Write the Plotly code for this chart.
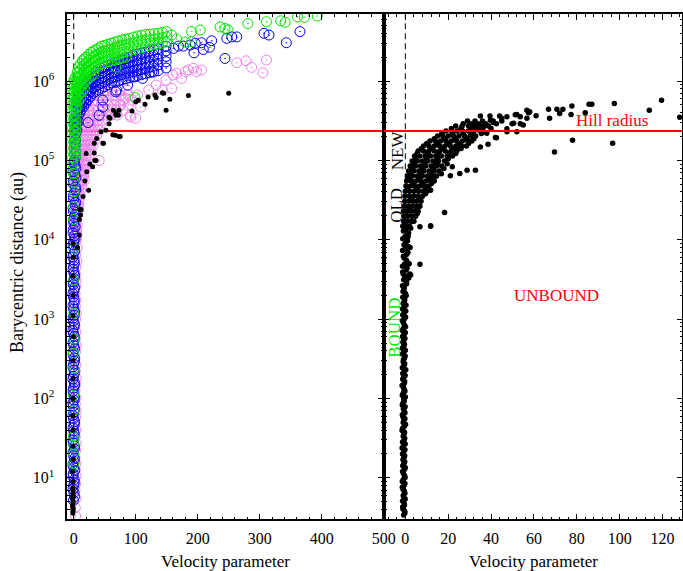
import math
import plotly.graph_objects as go

# ---------------- DATA ----------------
green_band = [  # (x, [y ...]) rows of the dense green band
    (-2, [9.3e5, 8.0e5, 6.9e5, 6.0e5, 5.1e5, 4.4e5, 3.7e5, 3.1e5, 2.6e5, 2.2e5, 1.85e5, 1.55e5, 1.3e5, 1.08e5, 9.0e4, 7.5e4]),
    (0.5, [1.05e6, 8.8e5, 7.4e5, 6.3e5, 5.3e5, 4.5e5, 3.8e5, 3.25e5, 2.75e5, 2.35e5, 2.0e5, 1.7e5, 1.42e5, 1.2e5]),
    (3, [1.12e6, 9.5e5, 8.0e5, 6.7e5, 5.6e5, 4.6e5, 3.8e5, 3.2e5, 2.7e5, 2.3e5, 1.9e5, 1.6e5, 1.3e5, 1.1e5]),
    (5.5, [1.3e6, 1.1e6, 9.3e5, 7.9e5, 6.6e5, 5.6e5, 4.7e5]),
    (8, [1.5e6, 1.28e6, 1.1e6, 9.2e5, 7.8e5, 6.6e5, 5.6e5]),
    (11, [1.65e6, 1.4e6, 1.18e6, 1.0e6, 8.5e5, 7.1e5, 6.1e5]),
    (14, [1.8e6, 1.5e6, 1.25e6, 1.05e6, 8.8e5, 7.3e5]),
    (17, [1.9e6, 1.6e6, 1.35e6, 1.12e6, 9.5e5, 8.0e5]),
    (20, [2.0e6, 1.7e6, 1.45e6, 1.2e6, 1.0e6]),
    (24, [2.15e6, 1.82e6, 1.55e6, 1.3e6, 1.08e6]),
    (28, [2.3e6, 1.95e6, 1.65e6, 1.38e6, 1.15e6]),
    (32, [2.4e6, 2.05e6, 1.72e6, 1.45e6, 1.22e6]),
    (36, [2.5e6, 2.1e6, 1.8e6, 1.5e6]),
    (40.5, [2.62e6, 2.2e6, 1.88e6, 1.58e6]),
    (45, [2.75e6, 2.3e6, 1.95e6, 1.65e6]),
    (50, [2.82e6, 2.38e6, 2.0e6, 1.7e6]),
    (55, [2.9e6, 2.45e6, 2.05e6, 1.75e6]),
    (60.5, [3.0e6, 2.52e6, 2.12e6, 1.8e6]),
    (66, [3.1e6, 2.6e6, 2.2e6, 1.85e6]),
    (72, [3.2e6, 2.7e6, 2.25e6, 1.9e6]),
    (78, [3.3e6, 2.8e6, 2.3e6, 1.95e6]),
    (84, [3.38e6, 2.85e6, 2.35e6, 2.0e6]),
    (90, [3.45e6, 2.9e6, 2.4e6]),
    (96.5, [3.58e6, 3.0e6, 2.48e6]),
    (103, [3.7e6, 3.1e6, 2.55e6]),
    (109.5, [3.78e6, 3.18e6, 2.62e6]),
    (116, [3.85e6, 3.25e6, 2.7e6]),
    (123, [3.9e6, 3.3e6, 2.78e6]),
    (130, [3.95e6, 3.35e6, 2.85e6]),
    (136.5, [4.02e6, 3.42e6, 2.92e6]),
    (143, [4.1e6, 3.5e6, 3.0e6]),
    (150, [4.2e6, 3.6e6, 3.1e6]),
]
green_pts = [
    (-0.5, 20), (0.3, 26), (-0.8, 33), (0.5, 71), (-0.3, 110), (0.2, 15), (0.6, 240),
    (-0.6, 370), (0.4, 560), (0.2, 1190), (-0.4, 3100), (0.8, 7800), (-0.3, 1.8e4),
    (-0.2, 2.6e4), (0.6, 4.0e4), (0.4, 5.2e4), (-0.7, 6.9e4),
    (68, 1.5e6), (99, 6.2e5),
    (158, 3.8e6), (166, 3.4e6), (180, 3.1e6), (190, 3.13e6), (190, 4.2e6),
    (204, 4.4e6), (236, 4.8e6), (244, 4.6e6), (249, 4.4e6), (281, 5.3e6), (311, 5.6e6),
    (334, 5.75e6), (341, 5.5e6), (361, 6.45e6), (372, 6.35e6), (393, 6.6e6),
]

blue_col = [
    (-0.6, 5.2), (0.4, 6.5), (-0.2, 8.0), (0.8, 9.5), (-0.9, 11.3), (0.1, 13.5), (0.6, 16),
    (-0.4, 19), (0.9, 23), (-0.7, 27.5), (0.3, 33), (-0.1, 39), (0.7, 47), (-0.5, 56),
    (0.2, 67), (-0.8, 80), (0.5, 95), (0.0, 113), (-0.3, 135), (0.8, 160), (-0.6, 190),
    (0.4, 228), (-0.2, 272), (0.9, 325), (-0.9, 388), (0.1, 463), (0.6, 552), (-0.4, 660),
    (0.3, 787), (-0.7, 940), (0.7, 1120), (-0.1, 1340), (0.5, 1600), (-0.5, 1910),
    (0.2, 2280), (-0.8, 2720), (0.8, 3250), (0.0, 3880), (-0.3, 4630), (0.6, 5530),
    (-0.6, 6600), (0.4, 7880), (-0.2, 9400), (1.0, 11200), (-0.9, 13400), (0.3, 16000),
    (1.5, 19100), (-0.5, 22800), (2.0, 27200), (-0.3, 32500), (1.2, 38800), (2.5, 46300),
    (-0.6, 55300), (1.8, 66000), (3.0, 78800), (0.5, 94000),
    (1.2, 5.8), (-1.3, 7.2), (0.9, 8.7), (-1.1, 10.4), (1.4, 12.3), (-1.5, 14.7), (1.0, 17.5),
    (-1.2, 21), (1.3, 25), (-1.4, 30), (0.9, 36), (-1.0, 43), (1.5, 51), (-1.3, 61),
    (1.1, 73), (-1.5, 87), (1.2, 104), (-1.1, 124), (1.4, 147), (-1.3, 175), (0.9, 208),
    (-1.4, 249), (1.3, 297), (-1.0, 355), (1.5, 424), (-1.2, 506), (1.0, 604), (-1.5, 720),
    (1.2, 860), (-1.1, 1030), (1.4, 1230), (-1.3, 1460), (0.9, 1750), (-1.4, 2090),
    (1.3, 2490), (-1.0, 2970), (1.5, 3550), (-1.2, 4240), (1.0, 5060), (-1.5, 6040),
    (1.6, 7210), (-1.1, 8610), (2.0, 10300), (-1.3, 12200), (2.2, 14600), (-0.8, 17500),
    (2.6, 20900), (-1.2, 24900), (3.0, 29700), (-0.9, 35500), (3.2, 42400), (-1.0, 50600),
    (3.5, 60400), (-0.7, 72100), (2.2, 86000),
]
blue_band = [  # (x, [y ...])
    (1, [1.0e5, 1.2e5, 1.45e5, 1.7e5, 2.0e5, 2.4e5, 2.9e5, 3.4e5]),
    (3, [1.1e5, 1.3e5, 1.58e5, 1.85e5, 2.2e5, 2.65e5, 3.15e5]),
    (5, [2.4e5, 2.9e5, 3.4e5, 4.0e5, 4.7e5, 5.5e5]),
    (7.5, [3.1e5, 3.7e5, 4.35e5, 5.1e5, 6.0e5]),
    (10, [4.0e5, 4.6e5, 5.4e5, 6.2e5, 7.1e5]),
    (13, [4.4e5, 5.0e5, 5.9e5, 6.8e5, 7.8e5]),
    (16, [4.8e5, 5.5e5, 6.4e5, 7.4e5, 8.5e5]),
    (19.5, [5.3e5, 6.1e5, 7.1e5, 8.2e5, 9.3e5]),
    (23, [5.8e5, 6.7e5, 7.8e5, 9.0e5, 1.0e6]),
    (27, [6.4e5, 7.4e5, 8.6e5, 1.0e6]),
    (31, [7.0e5, 8.1e5, 9.4e5, 1.09e6]),
    (35.5, [7.4e5, 8.6e5, 9.9e5, 1.15e6, 1.3e6]),
    (40, [7.8e5, 9.0e5, 1.05e6, 1.22e6, 1.4e6]),
    (45, [8.1e5, 9.4e5, 1.09e6, 1.27e6, 1.45e6]),
    (50, [8.5e5, 9.8e5, 1.14e6, 1.32e6, 1.5e6]),
    (55.5, [9.0e5, 1.04e6, 1.21e6, 1.4e6, 1.58e6]),
    (61, [9.5e5, 1.1e6, 1.28e6, 1.48e6, 1.65e6]),
    (66.5, [9.7e5, 1.13e6, 1.32e6, 1.52e6, 1.7e6]),
    (72, [1.0e6, 1.17e6, 1.36e6, 1.57e6, 1.75e6]),
    (78, [1.04e6, 1.21e6, 1.4e6, 1.62e6, 1.84e6]),
    (84, [1.07e6, 1.25e6, 1.45e6, 1.68e6, 1.92e6]),
    (90, [1.1e6, 1.28e6, 1.5e6, 1.74e6, 2.0e6]),
    (96, [1.13e6, 1.32e6, 1.55e6, 1.8e6, 2.1e6]),
    (102.5, [1.17e6, 1.36e6, 1.6e6, 1.86e6, 2.18e6]),
    (109, [1.2e6, 1.4e6, 1.65e6, 1.92e6, 2.25e6]),
    (115.5, [1.24e6, 1.45e6, 1.7e6, 1.98e6, 2.32e6]),
    (122, [1.27e6, 1.5e6, 1.75e6, 2.05e6, 2.4e6]),
    (129, [1.3e6, 1.55e6, 1.82e6, 2.12e6, 2.48e6]),
    (136, [1.35e6, 1.6e6, 1.88e6, 2.2e6, 2.55e6]),
    (149, [1.46e6, 1.75e6, 2.05e6, 2.4e6, 2.75e6]),
]
blue_pts = [
    (47, 5.75e5), (68, 7.3e5), (87, 8.9e5), (111, 1.08e6), (41, 3.7e5), (47, 4.7e5),
    (23, 3.0e5), (69, 7.7e5), (126, 1.31e6), (99, 1.13e6),
    (161, 2.58e6), (169, 2.76e6), (177, 2.76e6), (188, 2.84e6), (194, 2.27e6),
    (196, 2.99e6), (206, 3.04e6), (209, 2.5e6), (219, 2.66e6), (222.5, 3.22e6),
    (244, 1.93e6), (247, 3.45e6), (255, 3.6e6), (263, 3.6e6), (307, 4.0e6),
    (315, 3.8e6), (343, 3.04e6), (365, 4.2e6),
]

pink_col = [
    (3, 3.3), (2.5, 4.2), (3.5, 5.5), (2, 7), (3, 8.5), (4, 10.5), (2.5, 12.5), (3.5, 15),
    (2, 18), (3, 22), (4, 27), (2.5, 33), (3.5, 40), (2, 48), (3, 58), (4, 70), (2.5, 85),
    (3.5, 102), (2, 125), (3, 150), (4, 180), (2.5, 220), (3.5, 265), (2, 320), (3, 390),
    (4, 470), (2.5, 570), (3.5, 690), (2, 830), (3, 1000), (4, 1200), (2.5, 1450),
    (3.5, 1750), (2, 2100), (3, 2550), (4, 3100), (2.5, 3700), (3.5, 4500), (5, 5400),
    (3, 6500), (5.5, 7900), (3, 9500),
]
pink_band = [  # (y, [x ...]) rows of the pink wedge
    (1.0e4, [2, 4]), (1.15e4, [3, 5]), (1.32e4, [2, 4.5]), (1.52e4, [3, 5.5]),
    (1.77e4, [2, 5]), (2.05e4, [3, 6]), (2.36e4, [2, 4.5, 7]), (2.75e4, [3, 6, 8]),
    (3.16e4, [2, 5, 8.5]), (3.65e4, [3, 6.5, 10]), (4.22e4, [2, 5, 8, 11]),
    (4.9e4, [3, 6.5, 10, 13]), (5.65e4, [2, 5, 8.5, 12, 14]), (6.5e4, [3, 6.5, 10, 13.5, 16]),
    (7.55e4, [2, 5.5, 9, 12.5, 16, 18]), (8.7e4, [3, 7, 11, 15, 19, 21]),
    (1.01e5, [2, 6, 10, 14, 18, 22]), (1.17e5, [3, 7, 11, 15.5, 20, 25]),
    (1.35e5, [2, 6, 10.5, 15, 19.5, 24, 28]), (1.56e5, [4, 8.5, 13, 18, 23, 27, 31]),
    (1.8e5, [3, 8, 13, 18, 23, 28, 34]), (2.08e5, [6, 11, 16, 21, 27, 32, 37]),
    (2.41e5, [5, 10, 16, 22, 28, 34, 40]), (2.79e5, [8, 14, 20, 26, 32, 38, 43]),
    (3.22e5, [6, 13, 20, 27, 34, 40, 46]), (3.72e5, [10, 17, 24, 31, 38, 45, 52, 60, 70]),
    (4.3e5, [8, 16, 24, 32, 40, 48, 56, 68, 80]), (4.98e5, [15, 25, 35, 45, 55, 65, 76, 88]),
    (5.75e5, [20, 32, 44, 56, 68, 80, 95]), (6.66e5, [40, 52, 64, 76, 88]),
    (7.7e5, [50, 62, 74, 86]),
]
pink_pts = [
    (84, 6.05e5), (103, 6.66e5), (121, 7.7e5), (133, 8.9e5), (149, 1.03e6), (160, 1.19e6),
    (143, 7.7e5), (108, 4.7e5), (100, 3.4e5), (74, 5.0e5), (47, 7.05e5), (91, 3.7e5),
    (92, 3.5e5), (41, 1.0e5), (17, 5.6e4),
    (166, 1.25e6), (174, 1.08e6), (180, 1.31e6), (185, 1.38e6), (193, 1.45e6),
    (198, 1.31e6), (206, 1.38e6), (158, 8.1e5), (263, 1.7e6), (278, 1.8e6),
    (287, 1.49e6), (305, 1.27e6), (311, 1.84e6),
]

black_left = [
    (-1.5, 3.6), (-1.3, 3.8), (-1.0, 4.0), (-1.2, 4.2), (-1.8, 4.4), (-1.4, 4.6),
    (-1.2, 4.9), (-1.1, 5.1), (-1.6, 5.4), (-1.3, 5.7), (-1.0, 6.0), (-1.2, 6.4),
    (-1.4, 7.0), (-1.4, 7.5), (-1.1, 9), (-1.6, 12), (-0.9, 17), (-1.3, 25), (-1.0, 40),
    (-1.5, 60), (-0.8, 100), (-1.2, 180), (-1.0, 300), (-0.7, 600), (-1.3, 1100),
    (-0.9, 2000), (-1.1, 3500), (-0.6, 6000), (-1.0, 9000),
    (6, 8.0e3), (9, 1.15e4), (11, 2.05e4), (10, 2.4e4), (15, 3.5e4), (18, 5.5e4), (26, 9.0e4),
    (44, 2.3e5), (36, 1.0e5), (24, 4.2e4), (12, 2.4e4), (63, 2.1e5), (73, 2.0e5),
    (47, 1.65e5), (33, 1.24e5), (30.6, 8.3e4), (21, 7.2e4), (143, 7.1e5), (133, 6.2e5),
    (149, 4.3e5), (115, 5.1e5), (100, 5.5e5), (94, 4.2e5), (73, 4.3e5), (68, 3.7e5),
    (57, 3.5e5), (155, 5.9e5), (185, 6.6e5), (250, 7.0e5), (9, 1.8e4), (57, 2.9e5),
    (68, 3.9e5), (52, 2.4e5), (20, 1.22e5), (33, 1.64e5), (64, 4.3e5), (72, 3.7e5),
    (104, 5.75e5), (120, 6.3e5), (131, 6.66e5), (145, 7.0e5), (58.5, 3.4e5), (37, 1.89e5),
    (48, 1.64e5), (34, 1.0e5), (67, 2.08e5), (75, 2.0e5),
]

black_right_col = [
    (-0.8, 3.4), (-0.3, 3.8), (-1.2, 4.3), (-0.6, 4.8), (-0.1, 5.4), (-1.0, 6.0), (-0.5, 6.8),
    (-1.4, 7.6), (-0.2, 8.5), (-0.9, 9.5), (-0.4, 10.7), (-1.3, 12.0), (0.0, 13.4), (-0.7, 15.0),
    (-1.1, 16.9), (-0.3, 18.9), (-0.8, 21.2), (-1.5, 23.8), (-0.1, 26.6), (-0.6, 29.8),
    (-1.0, 33.4), (-0.4, 37.4), (-1.3, 41.9), (0.1, 47.0), (-0.7, 52.6), (-1.1, 59.0),
    (-0.2, 66.0), (-0.9, 74.0), (-1.4, 83.0), (-0.5, 93.0), (0.0, 104), (-1.0, 117),
    (-0.6, 131), (-1.5, 146), (-0.3, 164), (-0.8, 184), (-1.2, 206), (0.2, 230), (-0.7, 258),
    (-1.0, 289), (-0.4, 324), (-1.3, 363), (0.0, 406), (-0.8, 455), (-1.1, 510), (-0.2, 571),
    (-0.6, 640), (-1.4, 716), (0.1, 802), (-0.9, 899), (-0.4, 1007), (-1.2, 1128), (0.2, 1263),
    (-0.7, 1415), (-1.0, 1584), (-0.3, 1775), (0.4, 1988), (-1.1, 2226), (-0.5, 2494),
    (0.6, 2793), (-0.8, 3128), (0.2, 3503), (-1.2, 3924), (0.8, 4395), (-0.4, 4922),
    (0.5, 5513), (-0.9, 6175), (1.2, 6916), (0.0, 7746), (-0.6, 8675), (1.0, 9716),
    (-0.2, 10880), (1.5, 12190), (0.3, 13650), (-0.5, 15300),
    (1.6, 3300), (1.8, 5000), (2.2, 8000), (1.3, 11000), (2.5, 14000),
    (-0.2, 3.6), (-1.1, 4.05), (-0.4, 4.55), (-1.3, 5.1), (-0.7, 5.7), (-0.2, 6.4), (-1.1, 7.2),
    (-0.6, 8.05), (-1.4, 9.0), (-0.1, 10.1), (-0.9, 11.3), (-0.5, 12.7), (-1.2, 14.2),
    (-0.3, 15.9), (-0.7, 17.9), (-1.3, 20.0), (-0.2, 22.5), (-0.9, 25.2), (-1.3, 28.2),
    (-0.3, 31.6), (-0.7, 35.4), (-1.5, 39.6), (-0.5, 44.4), (-1.0, 49.7), (-0.2, 55.7),
    (-1.4, 62.4), (-0.6, 69.9), (-0.1, 78.4), (-1.1, 87.9), (-0.8, 98.4), (-1.4, 110),
    (-0.2, 124), (-0.9, 138), (-0.5, 155), (-1.2, 174), (-0.1, 195), (-0.6, 218), (-1.4, 244),
    (-0.3, 273), (-0.9, 306), (-0.1, 343), (-0.7, 384), (-1.4, 430), (-0.4, 482), (-0.8, 540),
    (-1.3, 605), (0.0, 678), (-0.9, 759), (-0.5, 850), (-1.4, 952), (0.1, 1066), (-0.6, 1195),
    (-1.3, 1339), (0.3, 1500), (-0.4, 1680), (-1.2, 1880), (0.0, 2105), (-0.7, 2360),
    (-1.3, 2640), (0.5, 2960), (-0.3, 3310), (-1.0, 3710), (0.4, 4150), (-1.3, 4650),
    (0.9, 5210), (-0.5, 5840), (0.6, 6540), (-1.3, 7330), (1.4, 8210), (0.2, 9190),
    (-1.2, 10300), (0.8, 11500), (-0.9, 12900), (1.1, 14500),
]
black_right_band = [  # (y, [x ...]) rows of the dense black band
    (1.485e4, [-1.2, 0.5, 2.0]), (1.716e4, [-0.8, 1.0, 2.8, 4.0]),
    (1.984e4, [-0.6, 1.2, 3.0, 4.8]), (2.294e4, [-0.9, 0.8, 2.6, 4.4, 6.0]),
    (2.47e4, [1.9, 5.6]), (2.653e4, [-0.5, 1.3, 3.2, 5.0, 6.8]),
    (3.068e4, [-0.3, 1.6, 3.5, 5.4, 7.3]), (3.3e4, [2.6, 6.4]),
    (3.546e4, [-0.2, 1.8, 3.8, 5.8, 8.0]), (4.101e4, [0.0, 2.0, 4.1, 6.2, 8.3, 10.2]),
    (4.4e4, [1.1, 5.2, 9.4]), (4.743e4, [0.3, 2.4, 4.6, 6.8, 9.0, 11.0]),
    (5.1e4, [3.6, 8.0, 12.2]), (5.483e4, [0.6, 2.8, 5.0, 7.3, 9.6, 11.9, 13.5]),
    (5.9e4, [1.9, 6.4, 11.0]), (6.339e4, [1.0, 3.3, 5.6, 8.0, 10.4, 12.8, 14.6]),
    (6.8e4, [2.5, 7.2, 12.0, 16.8]), (7.332e4, [1.5, 3.9, 6.3, 8.7, 11.1, 13.5, 15.8]),
    (7.9e4, [3.3, 8.0, 13.0]), (8.477e4, [2.3, 4.7, 7.1, 9.5, 12.0, 14.5, 17.0]),
    (9.1e4, [4.0, 9.0, 14.0, 19.5]), (9.80e4, [3.2, 5.6, 8.0, 10.5, 13.0, 15.5, 18.3]),
    (1.05e5, [5.0, 10.0, 15.0, 20.0]), (1.133e5, [4.3, 6.7, 9.2, 11.7, 14.2, 16.8, 19.5, 22.0]),
    (1.22e5, [5.5, 10.5, 15.5, 20.5, 23.5]), (1.31e5, [6.0, 8.5, 11.0, 13.5, 16.0, 18.6, 21.3, 24.0]),
    (1.41e5, [7.5, 12.5, 17.5, 22.5, 26.0]),
    (1.515e5, [8.5, 11.0, 13.5, 16.0, 18.5, 21.0, 23.6, 26.2, 28.5]),
    (1.63e5, [10.0, 15.0, 20.0, 25.0, 29.5]),
    (1.752e5, [11.5, 14.0, 16.5, 19.0, 21.5, 24.0, 26.6, 29.2, 31.0]),
    (1.88e5, [13.5, 18.5, 23.5, 28.5, 32.0]),
    (2.025e5, [15.0, 17.5, 20.0, 22.5, 25.0, 27.6, 30.2, 32.8]),
    (2.18e5, [17.0, 22.0, 27.0, 31.0, 35.5]),
    (2.342e5, [19.0, 21.6, 24.2, 26.8, 29.4, 32.0, 34.8]),
    (2.52e5, [21.5, 26.0, 31.0, 36.0, 40.0]),
    (2.707e5, [23.5, 26.5, 29.5, 32.5, 35.5, 38.8]),
    (2.9e5, [27.0, 31.0, 34.0, 37.5, 42.5]),
    (3.13e5, [29.0, 32.5, 36.0, 41.0, 45.0]), (3.62e5, [35.0, 39.5, 44.0]),
]
black_right_pts = [
    (32.7, 7.5e4), (28.8, 7.5e4), (25.4, 6.85e4), (21, 6.4e4), (18.3, 2.2e4), (11.8, 1.48e4),
    (6.8, 1.46e4), (6.8, 4.9e3), (2.1, 3.7e3), (13.3, 6.2e4), (18, 7.9e4), (21.9, 8.3e4),
    (14.9, 9.1e4), (24, 1.35e5), (25.7, 1.48e5), (35, 1.48e5), (38.6, 1.6e5), (42.5, 1.93e5),
    (7.1, 3.16e4), (9.4, 3.8e4), (11.8, 4.2e4), (5.6, 2.15e4), (3.3, 1.7e4), (11.8, 1.5e4),
    (2.5, 3.6e3),
    (53.6, 3.55e5), (55, 2.8e5), (56.7, 3.4e5), (58, 4.1e5), (61, 3.65e5), (66.8, 4.4e5),
    (67.3, 3.4e5), (70.7, 4.4e5), (72, 3.9e5), (73.5, 4.4e5), (77.7, 4.84e5), (77.3, 3.8e5),
    (78, 1.8e5), (69.6, 1.28e5), (83.9, 4.0e5), (85.7, 5.1e5), (87, 5.1e5), (97.5, 5.2e5),
    (96.7, 1.64e5), (113.8, 4.3e5), (119.5, 5.75e5), (128, 3.5e5), (57.5, 4.0e5),
    (52, 3.8e5), (47.4, 3.55e5), (50.5, 2.93e5), (52, 2.3e5), (47.4, 2.5e5), (38, 2.2e5),
    (36.6, 2.65e5), (41, 3.0e5), (33.5, 2.5e5), (51.3, 3.75e5), (56.7, 4.3e5), (53.6, 2.9e5),
    (49.8, 2.9e5), (45, 3.4e5), (39.7, 3.2e5), (47.4, 2.3e5), (42, 1.94e5),
]

hill_radius = 2.34e5
x_range_left = [-10.4, 500.6]
x_range_right = [-9.95, 129.2]
y_range = [3.0, 7.0e6]
y_tick_vals = [10, 100, 1e3, 1e4, 1e5, 1e6]
y_tick_text = ["10<sup>1</sup>", "10<sup>2</sup>", "10<sup>3</sup>", "10<sup>4</sup>",
               "10<sup>5</sup>", "10<sup>6</sup>"]

def from_pairs(pairs):
    return [p[0] for p in pairs], [p[1] for p in pairs]

def from_xrows(rows):
    xs, ys = [], []
    for x, yl in rows:
        for y in yl:
            xs.append(x); ys.append(y)
    return xs, ys

def from_yrows(rows):
    xs, ys = [], []
    for y, xl in rows:
        for x in xl:
            xs.append(x); ys.append(y)
    return xs, ys

def cat(*parts):
    xs, ys = [], []
    for a, b in parts:
        xs += a; ys += b
    return xs, ys

gx, gy = cat(from_xrows(green_band), from_pairs(green_pts))
bx, by = cat(from_pairs(blue_col), from_xrows(blue_band), from_pairs(blue_pts))
px_, py_ = cat(from_pairs(pink_col), from_yrows(pink_band), from_pairs(pink_pts))
kx, ky = from_pairs(black_left)
rx, ry = cat(from_pairs(black_right_col), from_yrows(black_right_band), from_pairs(black_right_pts))

GREEN = "#00e600"
BLUE = "#0000f0"
PINK = "#ee82ee"
FONT = "Liberation Serif, Times New Roman, serif"

fig = go.Figure()
fig.add_trace(go.Scatter(x=x_range_left, y=[hill_radius, hill_radius], mode="lines",
                         line=dict(color="#ff0000", width=2), xaxis="x", yaxis="y",
                         hoverinfo="skip"))

def circles(x, y, color):
    return go.Scatter(x=x, y=y, mode="markers", xaxis="x", yaxis="y",
                      marker=dict(symbol="circle-open-dot", size=10, color=color,
                                  line=dict(color=color, width=1)))

fig.add_trace(circles(px_, py_, PINK))
fig.add_trace(circles(bx, by, BLUE))
fig.add_trace(circles(gx, gy, GREEN))
fig.add_trace(go.Scatter(x=kx, y=ky, mode="markers", xaxis="x", yaxis="y",
                         marker=dict(symbol="circle", size=5, color="black")))
fig.add_trace(go.Scatter(x=rx, y=ry, mode="markers", xaxis="x2", yaxis="y2",
                         marker=dict(symbol="circle", size=5.5, color="black")))
fig.add_trace(go.Scatter(x=x_range_right, y=[hill_radius, hill_radius], mode="lines",
                         line=dict(color="#ff0000", width=2), xaxis="x2", yaxis="y2",
                         hoverinfo="skip"))

W, H = 683, 571
xl_dom = [67.3 / W, 384.0 / W]
xr_dom = [384.0 / W, 682.3 / W]
y_dom = [1 - 519.3 / H, 1 - 14.0 / H]

minor_y = [m * 10 ** k for k in range(0, 7) for m in range(2, 10)]

axis_common = dict(showline=True, linecolor="black", linewidth=1.5, mirror="ticks",
                   ticks="inside", tickcolor="black", tickwidth=1, showgrid=False,
                   zeroline=False, automargin=False,
                   tickfont=dict(family=FONT, size=16, color="black"))

fig.update_layout(
    width=W, height=H, margin=dict(l=0, r=0, t=0, b=0, autoexpand=False), autosize=False,
    paper_bgcolor="white", plot_bgcolor="white", showlegend=False,
    xaxis=dict(domain=xl_dom, range=x_range_left, anchor="y", tickmode="linear",
               tick0=0, dtick=100, ticklen=6, ticklabelstandoff=4,
               minor=dict(ticks="inside", dtick=20, tick0=0, ticklen=3, tickcolor="black"),
               **axis_common),
    xaxis2=dict(domain=xr_dom, range=x_range_right, anchor="y2", tickmode="linear",
                tick0=0, dtick=20, ticklen=6, ticklabelstandoff=4,
                minor=dict(ticks="inside", dtick=4, tick0=0, ticklen=3, tickcolor="black"),
                **axis_common),
    yaxis=dict(domain=y_dom, type="log", anchor="x",
               range=[math.log10(y_range[0]), math.log10(y_range[1])],
               tickmode="array", tickvals=y_tick_vals, ticktext=y_tick_text,
               ticklen=6, ticklabelstandoff=8,
               minor=dict(ticks="inside", tickvals=minor_y, ticklen=3, tickcolor="black"),
               **axis_common),
    yaxis2=dict(domain=y_dom, type="log", anchor="x2", showticklabels=False,
                range=[math.log10(y_range[0]), math.log10(y_range[1])],
                tickmode="array", tickvals=y_tick_vals, ticklen=6,
                minor=dict(ticks="inside", tickvals=minor_y, ticklen=3, tickcolor="black"),
                **axis_common),
)

for xr in ("x", "x2"):
    fig.add_shape(type="line", xref=xr, yref="paper", x0=0, x1=0, y0=y_dom[0], y1=y_dom[1],
                  line=dict(color="black", width=1, dash="6px,4px"), layer="below")

def txt(text, x, y, xref="paper", yref="paper", color="black", size=17, angle=0):
    fig.add_annotation(text=text, x=x, y=y, xref=xref, yref=yref, showarrow=False,
                       textangle=angle, xanchor="center", yanchor="middle",
                       font=dict(family=FONT, size=size, color=color))

txt("Velocity parameter", 225.7 / W, 1 - 561.5 / H)
txt("Velocity parameter", 533.3 / W, 1 - 561.5 / H)
txt("Barycentric distance (au)", 17 / W, 1 - 263 / H, size=18, angle=-90)

txt("Hill radius", 96.4, 5.502, "x2", "y2", color="#ff0000")
txt("UNBOUND", 70.4, 3.301, "x2", "y2", color="#ff0000")
txt("BOUND", -5.0, 2.885, "x2", "y2", color=GREEN, angle=-90)
txt("OLD", -4.5, 4.436, "x2", "y2", angle=-90)
txt("NEW", -3.8, 5.13, "x2", "y2", angle=-90)

fig.write_html("out.html", config={"responsive": False, "displayModeBar": False})
